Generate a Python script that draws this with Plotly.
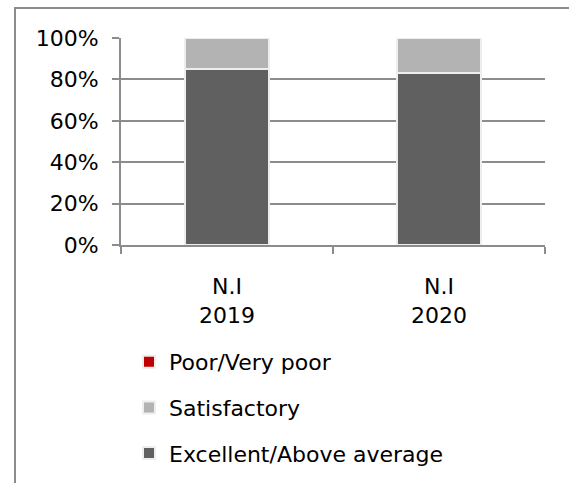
import plotly.graph_objects as go

# Survey ratings by year (share of responses, %)
categories = ["N.I<br>2019", "N.I<br>2020"]
excellent = [85, 83]
satisfactory = [15, 17]
poor = [0, 0]
y_ticks = [0, 20, 40, 60, 80, 100]
y_tick_labels = ["0%", "20%", "40%", "60%", "80%", "100%"]

series_names = ["Excellent/Above average", "Satisfactory", "Poor/Very poor"]
series_values = [excellent, satisfactory, poor]
series_colors = ["#606060", "#b3b3b3", "#c00000"]
legend_ranks = [3, 2, 1]

W, H = 569, 483
L, R, T, B = 121, 24, 38, 238
pw, ph = W - L - R, H - T - B

def px_x(px):
    return (px - L) / pw

def px_y(py):
    return (H - B - py) / ph

fig = go.Figure()
for name, vals, col, rank in zip(series_names, series_values, series_colors, legend_ranks):
    fig.add_trace(go.Bar(
        x=categories, y=vals, name=name, legendgroup=name, legendrank=rank,
        marker=dict(color=col, line=dict(color="#eeeeee", width=2)),
        width=0.4,
    ))

font = "DejaVu Sans"
fig.update_layout(
    width=W, height=H,
    margin=dict(l=L, r=R, t=T, b=B, autoexpand=False),
    barmode="stack",
    plot_bgcolor="white", paper_bgcolor="white",
    font=dict(family=font, size=22, color="#000000"),
    showlegend=True,
    legend=dict(
        traceorder="grouped", tracegroupgap=14,
        x=px_x(129), xanchor="left", y=px_y(341), yanchor="top",
        font=dict(family=font, size=22, color="#000000"),
        itemwidth=30, bgcolor="rgba(0,0,0,0)",
    ),
    xaxis=dict(
        automargin=False,
        showline=True, linecolor="#8c8c8c", linewidth=2,
        ticks="outside", tickson="boundaries", ticklen=7, tickcolor="#8c8c8c", tickwidth=2,
        ticklabelstandoff=21, showgrid=False,
    ),
    yaxis=dict(
        automargin=False,
        range=[0, 100], tickvals=y_ticks, ticktext=y_tick_labels,
        showline=True, linecolor="#8c8c8c", linewidth=2,
        ticks="outside", ticklen=7, tickcolor="#8c8c8c", tickwidth=2,
        ticklabelstandoff=9,
        showgrid=True, gridcolor="#8c8c8c", gridwidth=2,
        zeroline=False,
    ),
    shapes=[dict(
        type="rect", xref="paper", yref="paper",
        x0=px_x(15), x1=px_x(600), y0=px_y(520), y1=px_y(8),
        line=dict(color="#8c8c8c", width=2), fillcolor="rgba(0,0,0,0)", layer="below",
    )],
)

fig.write_html("out.html")
